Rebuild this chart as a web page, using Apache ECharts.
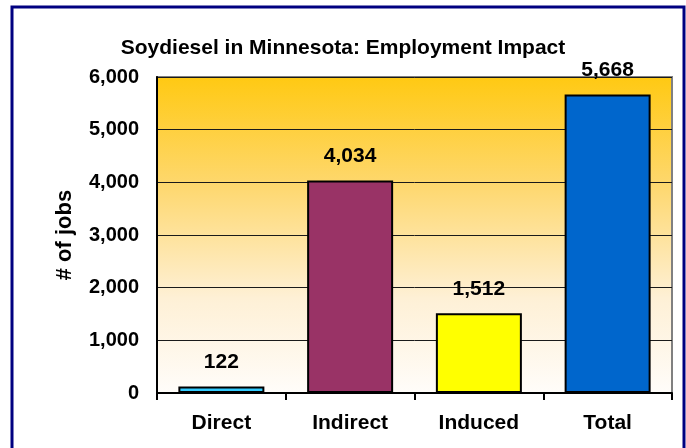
<!DOCTYPE html>
<html>
<head>
<meta charset="utf-8">
<script src="https://cdn.jsdelivr.net/npm/echarts@6/dist/echarts.min.js"></script>
<style>
  html, body { margin: 0; padding: 0; background: #fff; }
  #chart { width: 686px; height: 448px; }
</style>
</head>
<body>
<div id="chart"></div>
<script>
// data
const categories = ['Direct', 'Indirect', 'Induced', 'Total']
const jobs = [122, 4034, 1512, 5668]
const barColors = ['#33CCFF', '#993366', '#FFFF00', '#0066CC']

const font = '"Liberation Sans", Arial, sans-serif'
const chart = echarts.init(document.getElementById('chart'))

chart.setOption({
  animation: false,
  title: {
    text: 'Soydiesel in Minnesota: Employment Impact',
    left: 'center',
    top: 33,
    textStyle: { fontFamily: font, fontSize: 21, fontWeight: 'bold', color: '#000' }
  },
  graphic: [
    {
      type: 'rect',
      shape: { x: 12, y: 7, width: 672, height: 460 },
      style: { fill: 'none', stroke: '#000080', lineWidth: 3 },
      z: 100
    }
  ],
  grid: {
    left: 157,
    right: 14,
    top: 77,
    bottom: 55,
    show: true,
    borderColor: '#808080',
    borderWidth: 2,
    backgroundColor: new echarts.graphic.LinearGradient(0, 0, 0, 1, [
      { offset: 0, color: '#FFC912' },
      { offset: 0.35, color: '#FED870' },
      { offset: 0.7, color: '#FEF0D6' },
      { offset: 1, color: '#FFFDFA' }
    ])
  },
  xAxis: {
    type: 'category',
    data: categories,
    axisLine: { lineStyle: { color: '#000', width: 2 } },
    axisTick: { show: true, length: 7, lineStyle: { color: '#000', width: 2 } },
    axisLabel: {
      margin: 20,
      fontFamily: font, fontSize: 21, fontWeight: 'bold', color: '#000'
    }
  },
  yAxis: {
    type: 'value',
    min: 0,
    max: 6000,
    interval: 1000,
    name: '# of jobs',
    nameLocation: 'middle',
    nameRotate: 90,
    nameGap: 81,
    nameTextStyle: { fontFamily: font, fontSize: 22, fontWeight: 'bold', color: '#000' },
    axisLine: { show: true, lineStyle: { color: '#000', width: 2 } },
    axisTick: { show: false },
    splitLine: { lineStyle: { color: '#1a1a1a', width: 1 } },
    axisLabel: {
      margin: 18,
      fontFamily: font, fontSize: 20, fontWeight: 'bold', color: '#000',
      formatter: v => v.toLocaleString('en-US')
    }
  },
  series: [
    {
      type: 'bar',
      barWidth: 86,
      data: jobs.map((v, i) => ({
        value: v,
        itemStyle: { color: barColors[i] }
      })),
      itemStyle: { borderColor: '#000', borderWidth: 2 },
      label: {
        show: true,
        position: 'top',
        distance: 14,
        fontFamily: font, fontSize: 21, fontWeight: 'bold', color: '#000',
        formatter: p => p.value.toLocaleString('en-US')
      }
    }
  ]
})
</script>
</body>
</html>
